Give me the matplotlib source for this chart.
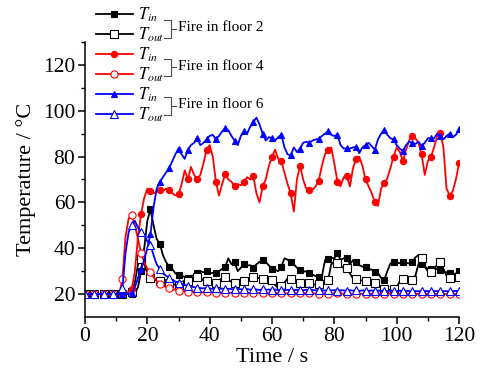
import numpy as np
import matplotlib
matplotlib.use('Agg')
import matplotlib.pyplot as plt
from matplotlib.lines import Line2D

plt.rcParams['font.family'] = 'Liberation Serif'
plt.rcParams['mathtext.fontset'] = 'stix'

# time in s, one sample per second
t = np.arange(0, 121)

# fire in floor 2
k_in = [20]*16 + [
    20.5, 23, 30, 40, 52, 57, 50, 44, 42, 37, 34, 32, 31, 29, 28.5, 28, 27.5, 27, 28, 28,
    29, 30, 29.5, 30, 29, 29.3, 29, 30, 31, 32, 35.6, 33, 34, 30, 31.5, 33, 32.5, 32.6, 31.5, 33,
    34, 35, 34, 32.5, 31, 30.6, 30, 32, 35.6, 35, 33.8, 33, 31.5, 30.5, 30, 29.8, 29.2, 28.5, 27.8, 27.5,
    27.5, 34.8, 35.5, 36, 35.5, 37.8, 35, 35.6, 35.6, 33, 34.8, 34, 32.6, 32, 31.8, 31, 30.6, 29.8, 29.2, 27,
    26, 30, 33.4, 34, 33.8, 33.5, 34, 33.6, 33.4, 34.1, 36, 37, 33, 32, 31.2, 30.8, 30.6, 31, 30.5, 29.8,
    29.5, 29, 28.5, 29, 30.2]
k_out = [20]*15 + [
    21, 25, 33, 35.5, 33, 29, 27, 26.5, 26, 25.5, 25.5, 25, 25, 24.5, 24, 24, 25, 26, 25.5, 25,
    26, 27.6, 27, 26, 25.5, 25, 24.5, 25, 26, 27, 27.5, 26, 25.4, 25, 25.5, 26, 25.5, 26, 27, 27.5,
    27.2, 27, 26.5, 26, 26, 26, 24, 22.7, 23.5, 25, 26.8, 26.5, 26, 25.5, 25, 25, 25.5, 25, 24.5, 24,
    24.5, 25, 25, 26, 33, 34, 33.4, 32, 31.5, 31.2, 29, 26.8, 26.5, 26, 26, 25.5, 25.5, 25, 25, 24,
    23, 22, 22, 21.8, 22, 23, 25.5, 26.5, 26.8, 26.5, 26, 28, 33, 35.6, 32, 30, 29.8, 30.5, 33, 34.1,
    31, 28, 26.8, 26.5, 27, 27.5]

# fire in floor 4
r_in = [20]*13 + [
    20.5, 21, 22, 30, 45, 55, 62, 66, 65, 64, 64.5, 65.5, 65, 66, 65.5, 64, 63, 63.5, 68, 74,
    70, 75.5, 72, 70, 72, 77, 83, 85, 80, 69, 63, 68, 72.5, 70, 69, 67, 68, 67.5, 69, 71,
    70, 71.5, 64, 60, 67, 70, 76, 80, 83, 79, 78, 73, 68, 64, 56, 70, 76, 70, 66, 65.5,
    65.5, 67, 69.5, 76, 81, 83, 84, 77, 69, 67, 71, 71.5, 67, 75, 79, 80, 76, 70, 67, 64,
    60, 58.5, 66, 68.5, 70.5, 75, 80, 84, 82, 78, 83, 87, 89, 88, 86, 81, 72, 78, 80, 84,
    89, 90.5, 84, 66, 63, 65, 70, 77]
r_out = [20]*12 + [
    26.5, 45, 53, 54.5, 50, 44, 38, 34, 31, 29.5, 27.5, 25.5, 24.5, 24, 23, 22.5, 22, 22, 21.5, 21.5,
    21.2, 21, 21, 21, 20.8, 20.8, 20.7, 20.8, 20.6, 20.7, 20.6, 20.5, 20.6, 20.5, 20.5, 20.6, 20.5, 20.4, 20.5, 20.5,
    20.4, 20.5, 20.4, 20.4, 20.5, 20.4, 20.4, 20.3, 20.4, 20.4, 20.3, 20.4, 20.3, 20.3, 20.4, 20.3, 20.3, 20.3, 20.2, 20.3,
    20.3, 20.2, 20.3, 20.2, 20.2, 20.3, 20.2, 20.2, 20.2, 20.3, 20.2, 20.2, 20.2, 20.2, 20.1, 20.2, 20.2, 20.1, 20.2, 20.2,
    20.1, 20.2, 20.1, 20.1, 20.2, 20.1, 20.1, 20.1, 20.2, 20.1, 20.1, 20.1, 20.1, 20.1, 20.1, 20.1, 20.1, 20.0, 20.1, 20.1,
    20.0, 20.1, 20.0, 20.0, 20.1, 20.0, 20.0, 20.0, 20.0]

# fire in floor 6
b_in = [20]*15 + [
    20.5, 23, 27, 31, 35, 40, 46, 58, 66, 69, 71, 73, 75, 78, 81, 83.5, 81, 79, 83, 85,
    86, 88, 85, 86, 87.5, 89, 89.5, 87.5, 89, 91, 92.3, 91.5, 89, 87, 85, 89, 91, 90, 93, 95,
    97, 94, 90, 87, 88.5, 88, 87, 88.5, 89.5, 84, 81, 80.5, 84, 82, 83.5, 86, 86.5, 86, 87, 87.5,
    87.7, 89, 90, 91, 89.5, 89, 89.5, 85, 83.5, 83.6, 83.5, 84, 84.3, 81.5, 84, 85, 86, 84.5, 83, 87.5,
    90, 91.6, 89.5, 88, 87.5, 85, 83.5, 82.4, 85, 86.5, 86, 85.5, 86.5, 84.5, 86, 88, 88, 88, 90, 89,
    87.5, 89, 90, 88.5, 89.5, 92]
b_out = [20]*12 + [
    22.5, 38, 47, 50, 52, 49, 47, 46, 43, 41.5, 37, 33, 31, 29, 28, 27, 26, 25.5, 25, 24.5,
    24, 23.7, 23.3, 23, 22.8, 22.6, 22.5, 22.7, 22.4, 22.3, 22.5, 22.2, 22.4, 22.1, 22.3, 22.2, 22.0, 22.3, 22.1, 22.0,
    22.2, 21.9, 22.1, 22.0, 21.8, 22.1, 21.9, 22.0, 21.8, 22.0, 21.9, 21.7, 22.0, 21.8, 21.9, 21.7, 21.9, 21.8, 21.6, 21.9,
    21.7, 21.8, 21.6, 21.8, 21.7, 21.5, 21.8, 21.6, 21.7, 21.5, 21.7, 21.6, 21.5, 21.7, 21.5, 21.6, 21.4, 21.6, 21.5, 21.4,
    21.6, 21.4, 21.5, 21.4, 21.5, 21.3, 21.5, 21.4, 21.3, 21.5, 21.3, 21.4, 21.3, 21.4, 21.3, 21.2, 21.4, 21.3, 21.3, 21.4,
    21.3, 21.3, 21.4, 21.3, 21.3, 21.2, 21.3, 21.4, 21.3]

floors = ['Fire in floor 2', 'Fire in floor 4', 'Fire in floor 6']

W, H = 483, 374
fig = plt.figure(figsize=(W/100, H/100), dpi=100)
ax = fig.add_axes([85/W, 1-317/H, 374/W, 275/H])

lw = 1.3
series = [
    (k_in, 'k', 's', 'k'), (k_out, 'k', 's', 'w'),
    (r_in, 'r', 'o', 'r'), (r_out, 'r', 'o', 'w'),
    (b_in, 'b', '^', 'b'), (b_out, 'b', '^', 'w'),
]
handles = []
for y, c, m, fc in series:
    ms = 4.5 if fc != 'w' else 5.2
    h, = ax.plot(t, y, color=c, lw=lw, marker=m, ms=ms, mfc=fc, mec=c,
                 mew=0.8, markevery=3)
    handles.append(h)

ax.set_xlim(0, 120)
ax.set_ylim(10, 130)
ax.set_xticks(range(0, 121, 20))
ax.set_xticks(range(10, 121, 20), minor=True)
ax.set_yticks(range(20, 121, 20))
ax.set_yticks(range(30, 131, 20), minor=True)
for s in ['top', 'right']:
    ax.spines[s].set_visible(False)
for s in ['left', 'bottom']:
    ax.spines[s].set_linewidth(1.1)
ax.tick_params(which='major', direction='out', length=5, width=1.1, labelsize=15.5, pad=2)
ax.tick_params(which='minor', direction='out', length=3, width=1.0)
ax.set_xlabel('Time / s', fontsize=16, labelpad=2)
ax.set_ylabel('Temperature / °C', fontsize=16, labelpad=5)

labels = [r'$T_{in}$', r'$T_{out}$'] * 3
ax.legend(handles, labels, loc='upper left', bbox_to_anchor=(96/W, 1-6/H),
          bbox_transform=fig.transFigure, frameon=False, fontsize=12,
          handlelength=2.2, handletextpad=0.3, labelspacing=0.09,
          borderpad=0, borderaxespad=0)


def fx(px):
    return px / W


def fy(py):
    return 1 - py / H


# brackets joining each pair of legend entries
for i, name in enumerate(floors):
    y0 = 20 + i * 38.5
    y1 = y0 + 17.5
    ym = (y0 + y1) / 2
    xb = 171
    kw = dict(color='0.3', lw=0.8, transform=fig.transFigure)
    fig.add_artist(Line2D([fx(164), fx(xb), fx(xb), fx(164)],
                          [fy(y0), fy(y0), fy(y1), fy(y1)], **kw))
    fig.add_artist(Line2D([fx(xb), fx(176)], [fy(ym), fy(ym)], **kw))
    fig.text(fx(178), fy(ym - 1), name, fontsize=11, va='center', ha='left')

fig.savefig('out.png', dpi=100)
